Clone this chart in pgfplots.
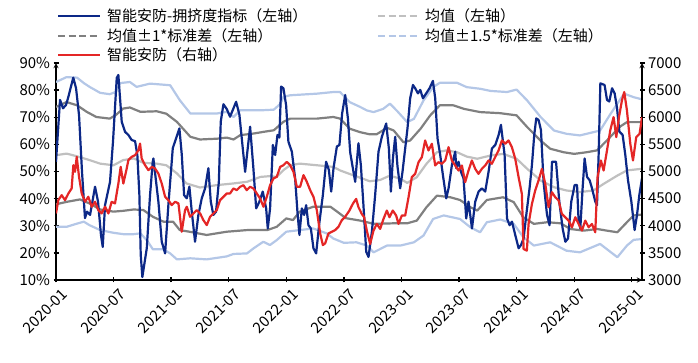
\documentclass[border=0pt]{standalone}
\usepackage{fontspec}
\setmainfont{Noto Sans CJK SC}
\usepackage{pgfplots}
\pgfplotsset{compat=1.18}
\definecolor{cnavy}{RGB}{12,40,135}
\definecolor{cred}{RGB}{228,38,38}
\definecolor{cmean}{RGB}{192,192,192}
\definecolor{csd}{RGB}{128,128,128}
\definecolor{clb}{RGB}{180,199,231}
\begin{document}
\begin{tikzpicture}[font=\fontsize{15}{18}\selectfont]
\useasboundingbox (-56pt,-83pt) rectangle (642pt,280pt);
\pgfplotsset{
  base/.style={scale only axis, width=586pt, height=217pt, xmin=0, xmax=61.07,
    tick align=inside, major tick length=5pt,
    axis line style={-, black, line width=1.3pt},
    tick style={black, line width=1.3pt},
    /pgf/number format/assume math mode=true,
    /pgf/number format/1000 sep={},
    ticklabel style={font=\fontsize{15}{18}\selectfont},
    every axis plot/.append style={line join=round}},
}
\begin{axis}[base, axis x line=bottom, axis y line=left,
  ymin=10, ymax=90, ytick={10,20,...,90},
  yticklabel={\pgfmathprintnumber{\tick}\%},
  xtick={0,6,...,60},
  xticklabels={2020-01,2020-07,2021-01,2021-07,2022-01,2022-07,2023-01,2023-07,2024-01,2024-07,2025-01},
  xticklabel style={rotate=45, anchor=north east, inner sep=1pt, yshift=-6pt, xshift=1pt}]
% mean + 1.5 sd
\addplot[clb, line width=2.2pt] coordinates {(0,83.0)(1.1,84.8)(2.2,84.6)(2.9,82.6)(3.5,81.2)(4.6,79.0)(5.6,78.5)(6.2,79.3)(6.7,82.6)(7.7,83.0)(8.4,81.2)(9.8,82.4)(11.9,81.8)(12.9,76.3)(14.0,71.4)(15.0,71.4)(16.8,71.4)(17.8,72.0)(18.5,70.1)(19.2,72.6)(21.6,72.6)(22.7,72.8)(23.4,75.0)(23.7,77.5)(24.4,78.1)(27.2,78.7)(28.9,79.3)(29.6,79.3)(30.6,75.6)(31.7,73.8)(32.4,72.5)(33.1,71.9)(34.1,73.1)(34.8,75.0)(35.5,72.5)(36.6,68.2)(37.3,69.4)(38.3,76.2)(39.3,81.1)(40.0,82.7)(41.8,82.7)(42.8,81.1)(44.2,80.5)(45.3,79.7)(47.0,79.3)(48.0,80.2)(49.1,76.2)(50.5,70.1)(51.9,65.1)(53.2,63.9)(54.6,63.3)(56.0,64.5)(56.7,65.1)(57.8,71.3)(59.2,78.7)(60.2,77.4)(61.07,76.6)};
% mean - 1.5 sd
\addplot[clb, line width=2.2pt] coordinates {(0,29.6)(1.1,29.6)(2.2,30.8)(2.9,31.5)(3.5,30.2)(4.6,28.4)(6.0,27.4)(7.0,26.9)(8.1,26.9)(8.8,27.2)(9.5,24.5)(10.1,21.3)(11.2,21.3)(11.9,19.8)(12.6,17.6)(14.0,18.0)(15.7,17.6)(17.8,18.7)(18.5,19.6)(19.9,19.8)(20.6,21.7)(21.6,24.1)(22.3,22.9)(23.0,24.7)(24.0,27.8)(25.4,28.4)(26.8,29.0)(28.2,27.2)(28.9,25.3)(30.0,23.7)(31.3,23.9)(32.4,22.7)(33.1,20.2)(34.5,22.7)(35.9,22.7)(37.3,23.9)(38.3,26.4)(39.3,32.5)(40.4,33.8)(42.1,32.5)(43.2,29.4)(44.2,27.6)(44.9,31.3)(46.3,32.3)(47.7,30.7)(48.7,25.8)(49.8,22.7)(51.5,23.9)(53.2,20.8)(54.6,20.2)(56.7,23.3)(58.5,18.4)(59.5,22.7)(60.2,24.8)(61.07,25.1)};
% mean + 1 sd
\addplot[csd, line width=2.2pt] coordinates {(0,73.8)(1.1,75.6)(2.2,74.4)(3.2,72.0)(4.2,70.1)(5.6,69.5)(6.2,70.7)(7.0,73.2)(7.7,73.6)(8.8,72.0)(10.5,72.2)(11.5,71.3)(12.6,68.3)(14.0,62.8)(15.0,61.8)(16.8,62.1)(17.8,62.5)(18.5,61.8)(19.2,63.4)(20.6,64.0)(21.6,64.6)(22.7,65.2)(23.7,68.3)(24.4,69.5)(27.2,69.5)(28.9,70.1)(29.6,69.5)(30.6,65.8)(31.7,64.5)(32.7,63.7)(33.4,63.7)(34.5,66.1)(35.2,65.1)(36.2,60.8)(36.9,61.4)(38.0,65.8)(39.0,70.7)(40.0,74.4)(41.4,74.4)(42.5,73.1)(44.2,71.9)(46.3,71.5)(48.0,70.7)(49.1,66.4)(50.5,61.4)(51.5,58.4)(52.9,57.1)(54.0,56.5)(55.3,57.1)(56.4,57.8)(57.4,61.4)(58.8,66.6)(59.5,68.2)(61.07,68.2)};
% mean - 1 sd
\addplot[csd, line width=2.2pt] coordinates {(0,37.9)(1.1,38.8)(2.5,39.7)(3.5,38.2)(4.6,36.0)(6.0,35.2)(7.0,35.5)(8.1,36.0)(9.1,35.8)(10.1,33.3)(11.2,31.5)(12.2,31.5)(12.9,28.4)(13.9,27.8)(15.7,26.6)(17.8,27.8)(19.9,28.4)(22.0,28.4)(23.0,29.6)(24.0,32.7)(24.7,32.1)(25.4,35.2)(26.8,37.0)(28.6,37.0)(29.3,35.2)(30.2,32.8)(31.7,31.9)(33.1,30.7)(35.2,30.9)(36.6,30.9)(37.6,31.9)(38.6,36.8)(39.7,41.1)(41.1,40.5)(42.1,39.5)(43.2,36.8)(43.9,35.6)(44.9,39.5)(46.6,40.5)(47.7,38.7)(48.7,33.1)(49.8,30.7)(51.2,31.3)(52.6,30.9)(53.6,28.8)(55.0,28.2)(56.4,28.8)(57.4,28.2)(58.5,27.6)(59.5,31.3)(60.2,33.8)(61.07,34.1)};
% mean
\addplot[cmean, line width=2.2pt] coordinates {(0,56.0)(1.1,56.6)(2.2,55.6)(3.5,54.2)(4.6,52.9)(6.0,52.3)(7.0,54.2)(8.1,54.8)(9.1,53.2)(10.5,52.9)(11.5,52.3)(12.6,49.3)(13.6,45.6)(15.0,44.1)(16.8,45.0)(18.5,45.6)(19.9,46.2)(21.3,48.0)(22.3,48.3)(23.0,48.0)(23.7,50.5)(24.4,52.3)(25.4,52.9)(27.2,52.3)(28.9,51.7)(29.6,50.4)(30.6,49.1)(31.7,47.7)(32.7,46.4)(33.8,46.9)(34.8,48.5)(35.9,47.3)(36.6,45.8)(37.6,47.9)(38.6,52.8)(39.7,57.1)(40.7,57.8)(41.8,57.1)(42.8,55.5)(43.9,54.7)(45.3,55.9)(46.6,56.5)(48.0,54.7)(49.1,51.0)(50.5,46.7)(51.9,44.2)(53.2,43.0)(54.6,42.4)(56.0,43.0)(57.1,45.5)(58.5,48.5)(59.5,50.4)(61.07,51.0)};
% crowding indicator
\addplot[cnavy, line width=2.2pt] coordinates {(0,53.6)(0.42,76.4)(0.73,73.3)(1.04,74.5)(1.25,77.0)(1.56,81.3)(1.80,84.6)(2.09,80.7)(2.40,70.8)(2.71,49.9)(3.02,32.8)(3.23,35.2)(3.55,34.0)(4.07,44.4)(4.38,38.9)(4.69,26.5)(4.87,22.2)(5.11,37.6)(5.63,46.2)(5.94,61.0)(6.33,84.5)(6.50,85.6)(6.85,68.3)(7.20,64.6)(7.54,63.5)(7.89,61.6)(8.24,61.2)(8.48,56.0)(8.69,41.3)(8.83,19.2)(9.00,11.1)(9.46,21.7)(9.80,41.3)(10.08,53.6)(10.15,54.8)(10.67,38.9)(11.02,24.1)(11.37,19.8)(11.71,37.6)(12.17,58.6)(12.51,62.2)(12.86,65.9)(13.11,56.1)(13.35,41.3)(13.63,40.1)(13.90,44.4)(14.15,35.2)(14.49,24.1)(14.84,34.0)(15.19,40.1)(15.54,43.8)(15.88,51.2)(16.13,38.9)(16.40,34.0)(16.68,35.2)(16.97,46.2)(17.17,68.4)(17.45,74.8)(17.80,73.0)(18.14,70.2)(18.77,75.7)(19.11,71.0)(19.71,49.9)(20.23,66.5)(20.57,51.2)(20.86,36.4)(21.20,38.9)(21.55,42.6)(21.90,36.4)(22.07,29.0)(22.31,36.4)(22.60,59.8)(22.84,56.1)(23.08,63.5)(23.28,62.5)(23.46,81.3)(23.70,80.7)(23.98,74.5)(24.22,61.0)(24.58,57.3)(24.92,47.5)(25.16,35.2)(25.37,26.6)(25.62,36.4)(25.86,34.0)(26.07,37.6)(26.31,30.2)(26.56,29.0)(26.83,21.7)(27.11,19.8)(27.46,31.5)(27.81,41.3)(28.15,53.6)(28.44,50.5)(28.68,42.6)(28.92,51.2)(29.27,59.2)(29.54,59.8)(29.82,71.4)(30.14,78.2)(30.42,69.6)(30.66,57.0)(31.00,49.9)(31.18,46.2)(31.52,60.4)(31.77,52.4)(32.04,37.6)(32.33,20.4)(32.57,18.5)(32.92,27.8)(33.26,41.3)(33.61,57.3)(33.96,62.8)(34.41,67.7)(34.69,58.5)(34.90,42.6)(35.11,54.8)(35.35,62.8)(35.59,51.8)(35.87,43.8)(36.11,49.9)(36.39,58.5)(36.63,65.9)(36.91,77.0)(37.20,81.9)(37.43,80.7)(37.72,78.8)(37.96,80.1)(38.24,77.0)(38.58,78.8)(38.93,80.7)(39.28,83.4)(39.52,77.0)(39.76,62.2)(40.04,56.1)(40.32,48.7)(40.67,40.1)(40.91,43.8)(41.26,52.4)(41.61,57.3)(41.71,51.2)(41.95,53.6)(42.20,49.9)(42.47,47.5)(42.75,32.7)(42.99,38.9)(43.35,29.0)(43.69,38.9)(44.04,42.6)(44.39,43.8)(44.73,42.6)(45.08,49.9)(45.43,58.5)(45.78,59.8)(46.13,63.5)(46.37,67.2)(46.58,61.0)(46.75,56.1)(47.00,32.7)(47.27,30.2)(47.52,31.5)(47.86,26.6)(48.21,21.7)(48.46,22.9)(48.73,25.3)(49.01,34.0)(49.35,43.8)(49.60,52.4)(49.84,63.5)(50.05,69.6)(50.29,69.0)(50.54,65.3)(50.81,46.2)(51.17,34.0)(51.44,30.2)(51.69,53.6)(52.11,53.6)(52.45,38.9)(52.80,29.0)(53.08,24.1)(53.36,25.3)(53.70,38.9)(54.05,45.0)(54.30,45.0)(54.46,32.0)(54.64,29.0)(54.88,43.8)(55.09,54.8)(55.34,48.0)(55.61,46.8)(55.86,43.8)(56.20,38.9)(56.38,37.6)(56.55,56.1)(56.73,82.5)(57.17,81.9)(57.42,76.4)(57.66,75.8)(57.95,80.7)(58.22,78.8)(58.47,73.3)(58.71,64.7)(59.05,63.5)(59.33,56.1)(59.61,46.8)(59.96,38.9)(60.30,28.4)(60.55,34.0)(60.79,41.3)(61.07,47.5)};
\end{axis}
\begin{axis}[base, axis x line=none, axis y line=right,
  ymin=3000, ymax=7000, ytick={3000,3500,...,7000}]
\addplot[cred, line width=2.2pt] coordinates {(0,4227)(0.24,4472)(0.59,4564)(0.94,4472)(1.29,4595)(1.63,4687)(1.81,5117)(1.98,4994)(2.16,5270)(2.40,4902)(2.68,4595)(3.02,4442)(3.37,4534)(3.72,4350)(4.07,4442)(4.41,4288)(4.76,4227)(5.11,4350)(5.46,4227)(5.80,4442)(6.15,4411)(6.50,4779)(6.74,5086)(7.02,4779)(7.37,5055)(7.54,5209)(7.89,5270)(8.24,5301)(8.59,5393)(8.76,5515)(8.93,5239)(9.28,5117)(9.63,5025)(9.98,5086)(10.32,5055)(10.67,4963)(11.02,4779)(11.37,4534)(11.71,4472)(12.06,4380)(12.41,4442)(12.76,4411)(13.10,3889)(13.45,4288)(13.63,4350)(13.97,4166)(14.32,4227)(14.67,4288)(15.02,4227)(15.36,4104)(15.71,4012)(16.06,4166)(16.41,4227)(16.75,4288)(17.10,4472)(17.45,4534)(17.80,4595)(18.14,4595)(18.49,4687)(18.84,4656)(19.19,4718)(19.53,4748)(19.88,4656)(20.23,4718)(20.58,4687)(20.92,4595)(21.27,4503)(21.62,4350)(21.97,4534)(22.31,4748)(22.66,4871)(23.01,4902)(23.36,5086)(23.71,5117)(24.05,5178)(24.40,5117)(24.75,4994)(25.10,4718)(25.44,4718)(25.79,4933)(26.14,4810)(26.49,4656)(26.83,4534)(27.18,4288)(27.53,3859)(27.81,3644)(28.05,3675)(28.40,3859)(28.74,3889)(29.09,3920)(29.44,3982)(29.79,4104)(30.14,4166)(30.58,4280)(30.93,4403)(31.28,4495)(31.52,4342)(31.87,4218)(32.11,4157)(32.39,3911)(32.74,3665)(33.09,3911)(33.43,4034)(33.78,3942)(34.13,4126)(34.48,4280)(34.75,4157)(35.10,4280)(35.45,4188)(35.69,4034)(36.04,4188)(36.39,4188)(36.74,4526)(37.08,4895)(37.43,4957)(37.78,5172)(38.13,5265)(38.47,5572)(38.82,5388)(39.17,5511)(39.52,5111)(39.86,5172)(40.21,5142)(40.56,5203)(40.91,5449)(41.25,5203)(41.60,5111)(41.95,5018)(42.30,5111)(42.64,4803)(42.99,5018)(43.34,5203)(43.69,5049)(44.03,4957)(44.38,5049)(44.73,5111)(45.08,5203)(45.42,5142)(45.77,5265)(46.12,5388)(46.47,5572)(46.82,5511)(47.16,5572)(47.51,5449)(47.86,5234)(48.21,4895)(48.55,4588)(48.73,3572)(49.07,3542)(49.25,4034)(49.60,4403)(49.94,4649)(50.29,4834)(50.64,5049)(50.99,4772)(51.33,4342)(51.68,4619)(52.03,4526)(52.38,4465)(52.72,4218)(53.07,4157)(53.42,4095)(53.77,3972)(54.12,4157)(54.46,4034)(54.81,3911)(55.16,4095)(55.51,3972)(55.85,4034)(56.20,3880)(56.44,4895)(56.79,5203)(57.07,5018)(57.42,5388)(57.76,5757)(58.11,6003)(58.39,5634)(58.67,6003)(58.98,6311)(59.22,6465)(59.50,6126)(59.85,5511)(60.13,5203)(60.47,5634)(60.82,5696)(61.07,6003)};
\end{axis}
% legend
\begin{scope}[line width=2.2pt]
\draw[cnavy] (2pt,264pt) -- (44pt,264pt);
\node[anchor=west, inner sep=0pt] at (50pt,264pt) {智能安防-拥挤度指标（左轴）};
\draw[cmean, dash pattern=on 7pt off 3.5pt] (322pt,264pt) -- (363pt,264pt);
\node[anchor=west, inner sep=0pt] at (368pt,264pt) {均值（左轴）};
\draw[csd, dash pattern=on 7pt off 3.5pt] (2pt,244pt) -- (44pt,244pt);
\node[anchor=west, inner sep=0pt] at (50pt,244pt) {均值±1*标准差（左轴）};
\draw[clb, dash pattern=on 7pt off 3.5pt] (322pt,244pt) -- (363pt,244pt);
\node[anchor=west, inner sep=0pt] at (368pt,244pt) {均值±1.5*标准差（左轴）};
\draw[cred] (2pt,225pt) -- (44pt,225pt);
\node[anchor=west, inner sep=0pt] at (50pt,225pt) {智能安防（右轴）};
\end{scope}
\end{tikzpicture}
\end{document}
